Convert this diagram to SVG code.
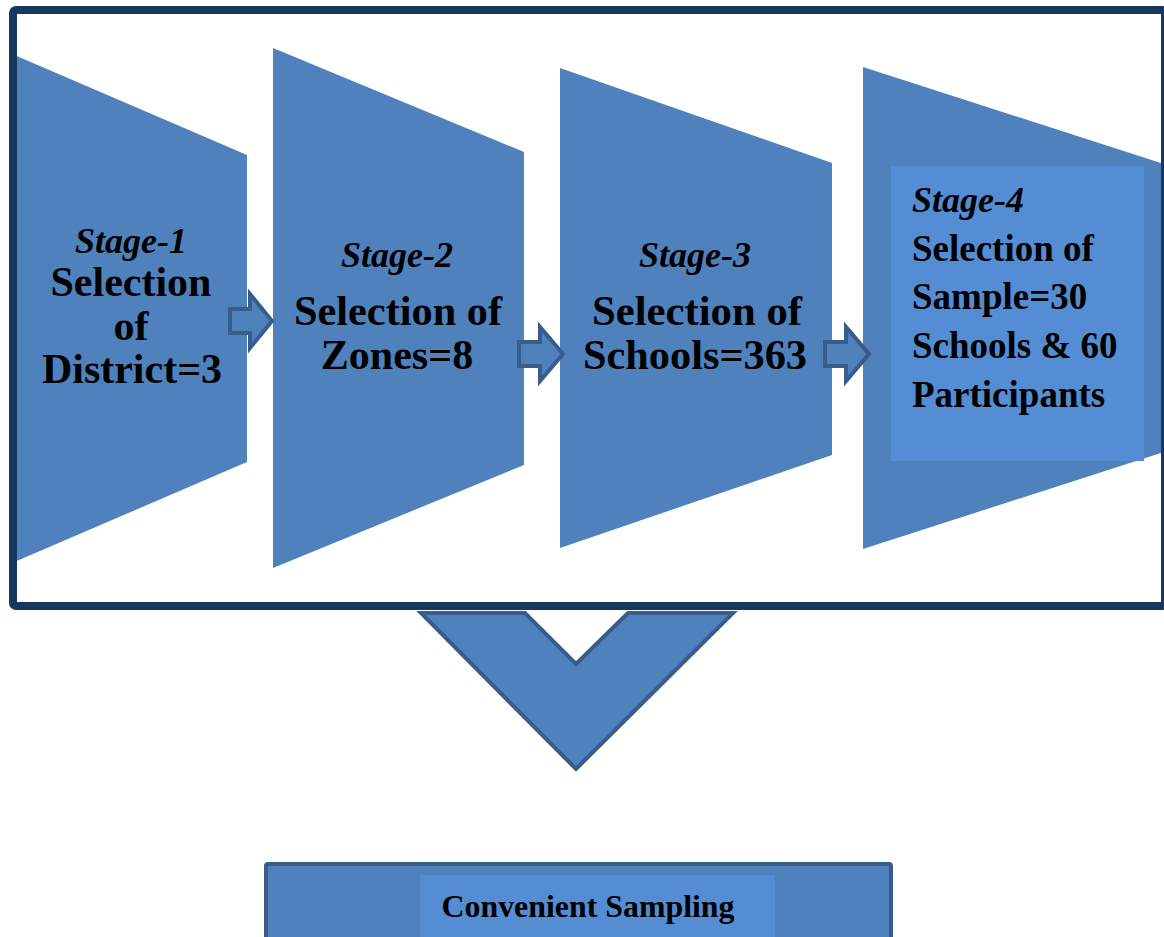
<svg xmlns="http://www.w3.org/2000/svg" width="1164" height="937" viewBox="0 0 1164 937">
<style>
.trap{fill:#4F81BD;}
.inner{fill:#548DD4;}
.arrow{fill:#4F81BD;stroke:#385D8A;stroke-width:4;stroke-linejoin:miter;}
.stage{font-family:"Liberation Serif","Times New Roman",serif;font-weight:bold;font-style:italic;font-size:36px;fill:#000;}
.main{font-family:"Liberation Serif","Times New Roman",serif;font-weight:bold;font-size:42px;fill:#000;}
.main4{font-family:"Liberation Serif","Times New Roman",serif;font-weight:bold;font-size:37px;fill:#000;}
.conv{font-family:"Liberation Serif","Times New Roman",serif;font-weight:bold;font-size:31px;fill:#000;}
</style>
<rect x="0" y="0" width="1164" height="937" fill="#FFFFFF"/>
<g id="stage1">
<polygon class="trap" points="12,54 247,155 247,462 12,563"/>
<text class="stage" x="131" y="253" text-anchor="middle">Stage-1</text>
<text class="main" x="131" y="296" text-anchor="middle">Selection</text>
<text class="main" x="131" y="340" text-anchor="middle">of</text>
<text class="main" x="132" y="383" text-anchor="middle">District=3</text>
</g>
<g id="stage2">
<polygon class="trap" points="273,48 524,152 524,465 273,568"/>
<text class="stage" x="397" y="267" text-anchor="middle">Stage-2</text>
<text class="main" x="398" y="325" text-anchor="middle" textLength="208" lengthAdjust="spacingAndGlyphs">Selection of</text>
<text class="main" x="397" y="369" text-anchor="middle">Zones=8</text>
</g>
<g id="stage3">
<polygon class="trap" points="560,68 832,163 832,455 560,548"/>
<text class="stage" x="695" y="267" text-anchor="middle">Stage-3</text>
<text class="main" x="697" y="325" text-anchor="middle" textLength="210" lengthAdjust="spacingAndGlyphs">Selection of</text>
<text class="main" x="695" y="369" text-anchor="middle" textLength="224" lengthAdjust="spacingAndGlyphs">Schools=363</text>
</g>
<g id="stage4">
<polygon class="trap" points="863,67 1170,166 1170,450 863,549"/>
<rect class="inner" x="891" y="166" width="253" height="295"/>
<text class="stage" x="912" y="212">Stage-4</text>
<text class="main4" x="912" y="261">Selection of</text>
<text class="main4" x="912" y="309">Sample=30</text>
<text class="main4" x="912" y="358">Schools &amp; 60</text>
<text class="main4" x="912" y="407">Participants</text>
</g>
<g id="frame">
<rect x="13" y="10" width="1152" height="596" rx="3" fill="none" stroke="#17375E" stroke-width="8"/>
</g>
<g id="connectors">
<polygon class="arrow" points="230,309 250,309 250,294 272,321 250,348 250,333 230,333"/>
<polygon class="arrow" points="519,342 540,342 540,327 563,354 540,381 540,366 519,366"/>
<polygon class="arrow" points="825,342 846,342 846,327 869,354 846,381 846,366 825,366"/>
<polygon class="arrow" stroke-linejoin="round" points="421,613 525,613 576,664 628,613 733,613 576,769"/>
</g>
<g id="convenient">
<rect x="266" y="864" width="625" height="100" fill="#4F81BD" stroke="#385D8A" stroke-width="4" rx="2"/>
<rect class="inner" x="420" y="875" width="355" height="70"/>
<text class="conv" x="588" y="917" text-anchor="middle" textLength="293" lengthAdjust="spacingAndGlyphs">Convenient Sampling</text>
</g>
</svg>
